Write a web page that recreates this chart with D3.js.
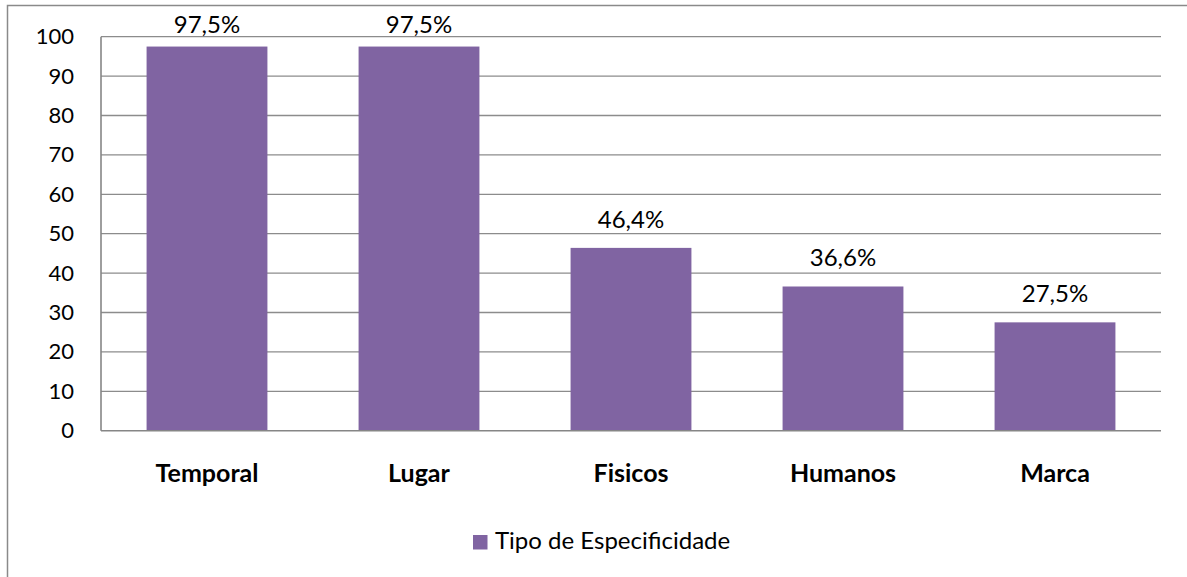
<!DOCTYPE html>
<html>
<head>
<meta charset="utf-8">
<script src="https://cdn.jsdelivr.net/npm/d3@7"></script>
<style>
  body { margin: 0; background: #fff; }
  svg { display: block; font-family: Lato, "Open Sans", sans-serif; }
</style>
</head>
<body>
<svg id="chart" width="1187" height="577"></svg>
<script>
const CATEGORIES = ['Temporal', 'Lugar', 'Fisicos', 'Humanos', 'Marca'];
const VALUES = [97.5, 97.5, 46.4, 36.6, 27.5];
const LABELS = ['97,5%', '97,5%', '46,4%', '36,6%', '27,5%'];
const Y_TICKS = [0, 10, 20, 30, 40, 50, 60, 70, 80, 90, 100];
const SERIES_NAME = 'Tipo de Especificidade';

const BAR_COLOR = '#8064a2';
const GRID_COLOR = '#8c8c8c';

const svg = d3.select('#chart');
const plotLeft = 101, plotRight = 1161, plotTop = 36.7, plotBottom = 430.7;

// outer chart border (only left / top edges fall inside the picture)
svg.append('rect')
    .attr('x', 7.5).attr('y', 5.5)
    .attr('width', 1200).attr('height', 600)
    .attr('fill', 'none')
    .attr('stroke', '#8a8a8a')
    .attr('stroke-width', 1.5);

const x = d3.scaleBand()
    .domain(CATEGORIES)
    .range([plotLeft, plotRight])
    .paddingInner(0.43)
    .paddingOuter(0.215);

const y = d3.scaleLinear()
    .domain([0, 100])
    .range([plotBottom, plotTop]);

// gridlines
svg.append('g')
    .selectAll('line')
    .data(Y_TICKS.filter(d => d > 0))
    .join('line')
    .attr('x1', plotLeft).attr('x2', plotRight)
    .attr('y1', d => y(d)).attr('y2', d => y(d))
    .attr('stroke', GRID_COLOR)
    .attr('stroke-width', 1.3);

// y axis labels
const yAxis = svg.append('g')
    .attr('transform', `translate(${plotLeft},0)`)
    .call(d3.axisLeft(y).tickValues(Y_TICKS).tickSize(0).tickPadding(27));
yAxis.select('.domain').remove();
yAxis.selectAll('text')
    .attr('font-family', 'Lato, sans-serif')
    .attr('font-size', 22)
    .attr('fill', '#000');

// bars
svg.append('g')
    .selectAll('rect')
    .data(VALUES)
    .join('rect')
    .attr('x', (d, i) => x(CATEGORIES[i]))
    .attr('y', d => y(d))
    .attr('width', x.bandwidth())
    .attr('height', d => y(0) - y(d))
    .attr('fill', BAR_COLOR);

// axis lines
svg.append('line')
    .attr('x1', plotLeft).attr('x2', plotLeft)
    .attr('y1', plotTop).attr('y2', plotBottom)
    .attr('stroke', '#868686').attr('stroke-width', 1.6);
svg.append('line')
    .attr('x1', plotLeft).attr('x2', plotRight)
    .attr('y1', plotBottom).attr('y2', plotBottom)
    .attr('stroke', '#868686').attr('stroke-width', 1.6);

// value labels
svg.append('g')
    .selectAll('text')
    .data(VALUES)
    .join('text')
    .attr('x', (d, i) => x(CATEGORIES[i]) + x.bandwidth() / 2)
    .attr('y', d => Math.max(y(d) - 20, 33))
    .attr('text-anchor', 'middle')
    .attr('font-size', 24)
    .attr('fill', '#000')
    .text((d, i) => LABELS[i]);

// category labels
svg.append('g')
    .selectAll('text')
    .data(CATEGORIES)
    .join('text')
    .attr('x', d => x(d) + x.bandwidth() / 2)
    .attr('y', 481.5)
    .attr('text-anchor', 'middle')
    .attr('font-size', 25)
    .attr('font-weight', 'bold')
    .attr('fill', '#000')
    .text(d => d);

// legend
const legend = svg.append('g').attr('transform', 'translate(473,535)');
legend.append('rect')
    .attr('width', 14.5).attr('height', 14.5)
    .attr('fill', BAR_COLOR);
legend.append('text')
    .attr('x', 22).attr('y', 13.5)
    .attr('font-size', 24)
    .attr('fill', '#000')
    .text(SERIES_NAME);
</script>
</body>
</html>
